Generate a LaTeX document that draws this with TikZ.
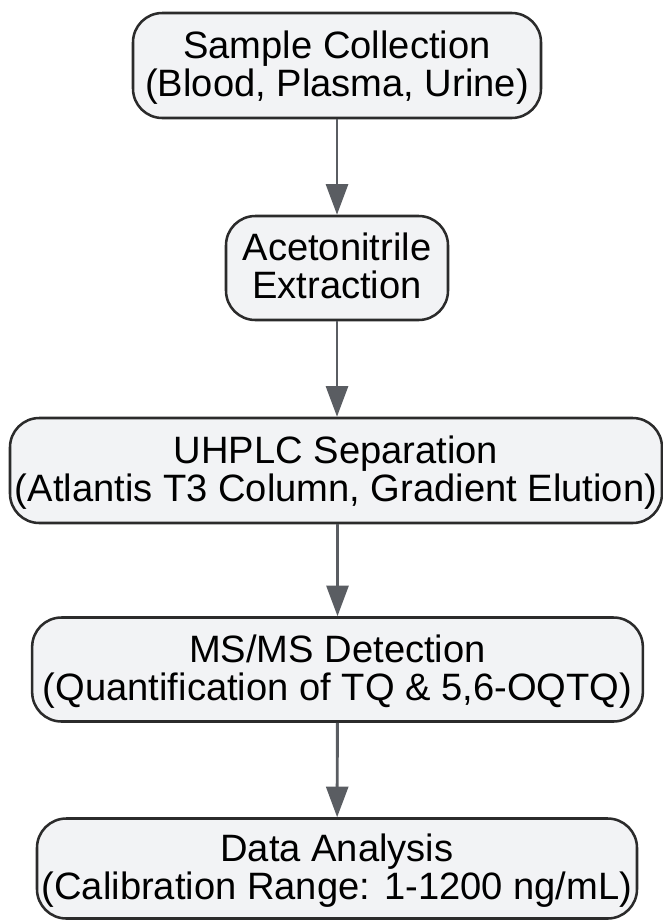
\documentclass[tikz,border=0pt]{standalone}
\usepackage{fontspec}
\setmainfont{Liberation Sans}
\usetikzlibrary{arrows.meta}
\definecolor{boxfill}{HTML}{F2F3F5}
\definecolor{boxline}{HTML}{2B2B2B}
\definecolor{arrowgray}{HTML}{5A5D62}
\tikzset{
  stage/.style={draw=boxline,line width=1.9pt,fill=boxfill,rounded corners=22pt,align=center,inner sep=0pt,text depth=3pt,font=\fontsize{28.6}{28.6}\selectfont},
  flow/.style={draw=arrowgray,line width=2.2pt,-{Triangle[length=23pt,width=16.5pt]}}
}
\begin{document}
\begin{tikzpicture}[x=0.75pt,y=-0.75pt]
\useasboundingbox (0,0) rectangle (663,921);
\node[stage,minimum width=306pt,minimum height=78.75pt] (sample) at (337,65.5) {Sample Collection\\(Blood, Plasma, Urine)};
\node[stage,minimum width=166.5pt,minimum height=78pt] (extract) at (337,268) {Acetonitrile\\Extraction};
\node[stage,minimum width=489pt,minimum height=78.75pt] (uhplc) at (336,470.5) {UHPLC Separation\\(Atlantis T3 Column, Gradient Elution)};
\node[stage,minimum width=458pt,minimum height=78pt] (msms) at (337.5,669.5) {MS/MS Detection\\(Quantification of TQ \& 5,6-OQTQ)};
\node[stage,minimum width=450pt,minimum height=75pt] (data) at (337,868.5) {Data Analysis\\(Calibration Range: 1-1200 ng/mL)};
\draw[flow] (sample) -- (extract);
\draw[flow] (extract) -- (extract|-uhplc.north);
\draw[flow] (uhplc.south-|msms) -- (msms);
\draw[flow] (msms) -- (data);
\end{tikzpicture}
\end{document}
